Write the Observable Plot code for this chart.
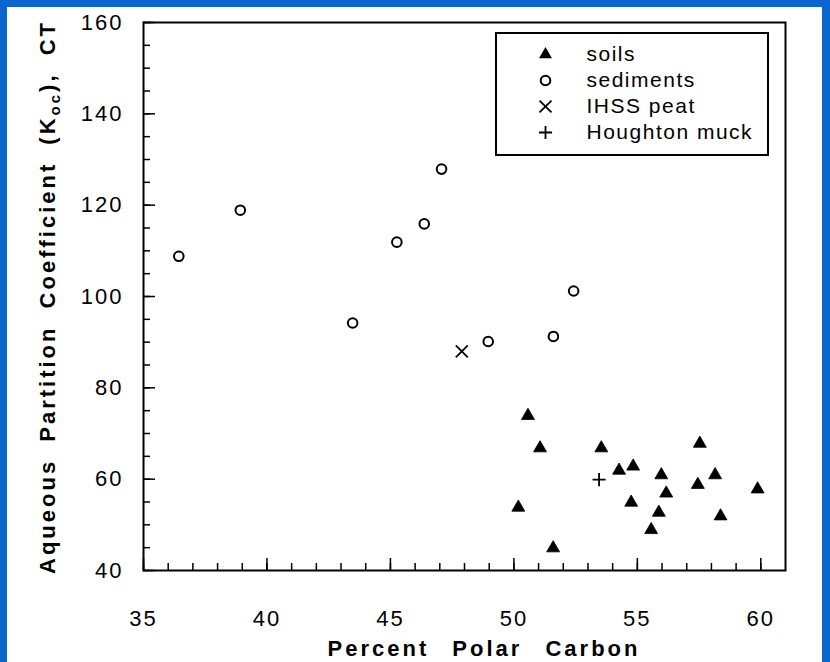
<!DOCTYPE html>
<html><head><meta charset="utf-8">
<script src="https://cdn.jsdelivr.net/npm/d3@7"></script>
<script src="https://cdn.jsdelivr.net/npm/@observablehq/plot@0.6"></script>
<style>
html,body{margin:0;padding:0;}
body{width:830px;height:662px;background:#0a66cc;position:relative;overflow:hidden;font-family:"Liberation Sans",Arial,sans-serif;color:#000;}
#paper{position:absolute;left:7px;top:7px;width:815px;height:655px;background:#fff;}
#chart{position:absolute;left:0;top:0;}
#legend{position:absolute;left:495px;top:32px;width:270px;height:120px;border:2px solid #000;background:#fff;}
</style></head><body>
<div id="paper"></div>
<div id="chart"></div>
<div id="legend"></div>
<script>
// ---- data ----
const categories = ["soils", "sediments", "IHSS peat", "Houghton muck"];
const soilsX = [50.57, 51.06, 50.18, 51.59, 53.54, 54.26, 54.83, 54.75, 55.97, 56.17, 55.87, 55.56, 57.53, 57.45, 58.15, 58.37, 59.87];
const soilsY = [73.9, 66.8, 53.8, 44.9, 66.8, 61.9, 62.8, 54.9, 60.9, 56.9, 52.7, 48.9, 67.8, 58.8, 60.9, 51.9, 57.8];
const sedimentsX = [36.43, 38.92, 43.47, 45.26, 46.37, 47.07, 48.96, 51.6, 52.42];
const sedimentsY = [108.8, 118.9, 94.2, 111.9, 115.9, 127.9, 90.15, 91.25, 101.2];
const peatX = [47.89];
const peatY = [88.0];
const muckX = [53.45];
const muckY = [59.9];
const xTickLabels = [35, 40, 45, 50, 55, 60];
const xMinorTicks = d3.range(35, 61, 1);
const yTickLabels = [40, 60, 80, 100, 120, 140, 160];
const yMinorTicks = d3.range(40, 161, 5);
const xLabel = "Percent Polar Carbon";

const toRows = (xs, ys) => xs.map((x, i) => ({x, y: ys[i]}));
const soils = toRows(soilsX, soilsY);
const sediments = toRows(sedimentsX, sedimentsY);
const peat = toRows(peatX, peatY);
const muck = toRows(muckX, muckY);

const font = "'Liberation Sans', Arial, Helvetica, sans-serif";

const W = 830, H = 662, mL = 143, mR = 45, mT = 22, mB = 92;
const frameW = W - mL - mR, frameH = H - mT - mB;

const chart = Plot.plot({
  width: W,
  height: H,
  marginLeft: mL,
  marginRight: mR,
  marginTop: mT,
  marginBottom: mB,
  style: {background: "transparent", overflow: "visible", fontFamily: font, letterSpacing: "2px", color: "#000"},
  x: {domain: [35, 61]},
  y: {domain: [40, 160]},
  marks: [
    // inward ticks (drawn as short tick marks inset against the bottom / left frame edge)
    Plot.tickX(xMinorTicks, {x: d => d, insetTop: frameH - 7, strokeWidth: 1.5}),
    Plot.tickX(xTickLabels, {x: d => d, insetTop: frameH - 12, strokeWidth: 1.5}),
    Plot.tickY(yMinorTicks, {y: d => d, insetRight: frameW - 7, strokeWidth: 1.5}),
    Plot.tickY(yTickLabels, {y: d => d, insetRight: frameW - 12, strokeWidth: 1.5}),
    Plot.axisX(xTickLabels, {tickSize: 0, tickPadding: 40, fontSize: 22, label: null}),
    Plot.axisY(yTickLabels, {tickSize: 0, tickPadding: 20, fontSize: 22, label: null}),
    Plot.frame({stroke: "#000", strokeWidth: 2}),
    Plot.dot(sediments, {x: "x", y: "y", symbol: "circle", r: 4.8, stroke: "#000", fill: "#fff", strokeWidth: 2}),
    Plot.dot(peat, {x: "x", y: "y", symbol: "times", r: 5.5, stroke: "#000", strokeWidth: 1.8}),
    Plot.dot(muck, {x: "x", y: "y", symbol: "plus", r: 4.3, stroke: "#000", strokeWidth: 1.8}),
    Plot.dot(soils, {x: "x", y: "y", symbol: "triangle", r: 4.8, fill: "#000", stroke: "#000", strokeWidth: 0.8})
  ]
});
document.getElementById("chart").appendChild(chart);

// axis titles (y title needs a subscript)
const svg = d3.select(chart);
svg.append("text")
  .attr("x", 484).attr("y", 656)
  .attr("text-anchor", "middle")
  .style("font", `bold 22px ${font}`)
  .style("letter-spacing", "3px").style("word-spacing", "14px")
  .text(xLabel);
const yl = svg.append("text")
  .attr("transform", "translate(55,297) rotate(-90)")
  .attr("text-anchor", "middle")
  .style("font", `bold 22px ${font}`)
  .style("letter-spacing", "3px").style("word-spacing", "8px");
yl.append("tspan").text("Aqueous Partition Coefficient (K");
yl.append("tspan").attr("dy", 5).style("font-size", "15px").text("oc");
yl.append("tspan").attr("dy", -5).text("),");
yl.append("tspan").text(" CT");

// legend
const legend = Plot.plot({
  width: 270,
  height: 120,
  marginTop: 19,
  marginBottom: 21,
  marginLeft: 0,
  marginRight: 0,
  style: {background: "transparent", overflow: "visible", fontFamily: font, color: "#000"},
  x: {axis: null},
  y: {type: "point", domain: categories, padding: 0, axis: null},
  marks: [
    Plot.dot(["soils"], {y: d => d, frameAnchor: "left", dx: 48, symbol: "triangle", r: 4.8, fill: "#000"}),
    Plot.dot(["sediments"], {y: d => d, frameAnchor: "left", dx: 48, symbol: "circle", r: 4.8, stroke: "#000", fill: "#fff", strokeWidth: 2}),
    Plot.dot(["IHSS peat"], {y: d => d, frameAnchor: "left", dx: 48, symbol: "times", r: 5.5, stroke: "#000", strokeWidth: 1.8}),
    Plot.dot(["Houghton muck"], {y: d => d, frameAnchor: "left", dx: 48, symbol: "plus", r: 4.3, stroke: "#000", strokeWidth: 1.8}),
    Plot.text(categories, {y: d => d, text: d => d, frameAnchor: "left", dx: 89, textAnchor: "start", fontSize: 21})
  ]
});
d3.select(legend).selectAll("text").style("letter-spacing", "1.5px");
document.getElementById("legend").appendChild(legend);
</script>
</body></html>
